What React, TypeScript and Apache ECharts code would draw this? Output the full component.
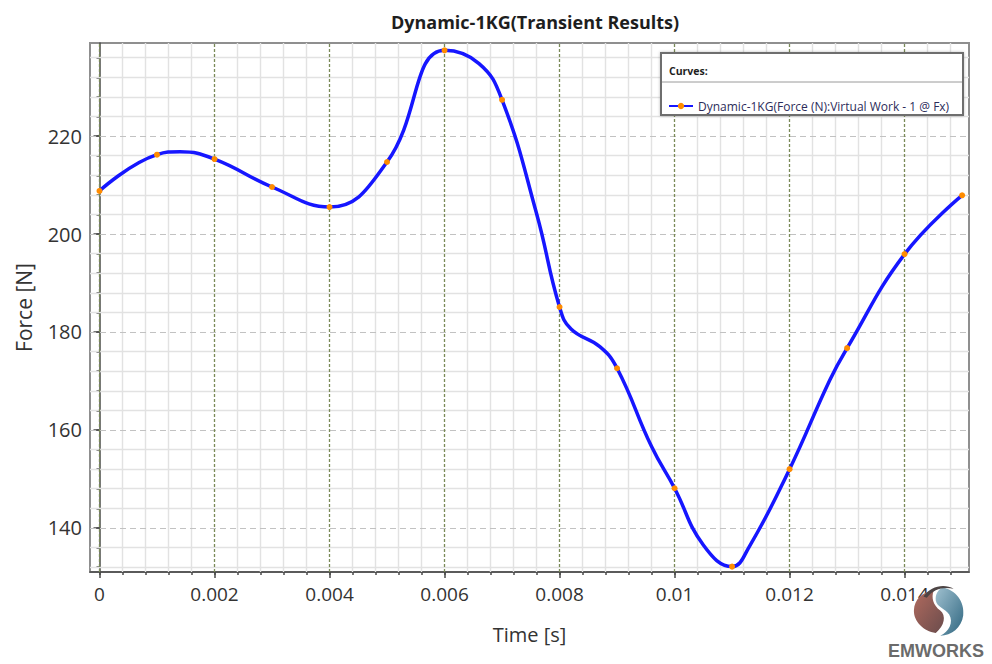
import { useEffect, useRef } from "react";
import * as echarts from "echarts";

// ---- data ----
const chartTitle = "Dynamic-1KG(Transient Results)";
const seriesName = "Dynamic-1KG(Force (N):Virtual Work - 1 @ Fx)";
const xAxisName = "Time [s]";
const yAxisName = "Force [N]";

// sampled points (orange markers)
const sampleTime = [0, 0.001, 0.002, 0.003, 0.004, 0.005, 0.006, 0.007, 0.008, 0.009, 0.01, 0.011, 0.012, 0.013, 0.014, 0.015];
const sampleForce = [208.8, 216.2, 215.3, 209.6, 205.5, 214.7, 237.5, 227.4, 185.1, 172.6, 148.1, 132.1, 152.0, 176.7, 195.9, 207.9];

// extra points (no marker)
const curveTime = [0.0014, 0.0066, 0.0076, 0.0082, 0.0087, 0.0096, 0.0105, 0.0113, 0.0127];
const curveForce = [216.8, 234.8, 204.2, 180.6, 177.0, 156.6, 136.5, 136.2, 170.2];

const xTickLabels = ["0", "0.002", "0.004", "0.006", "0.008", "0.01", "0.012", "0.014"];
const yTickLabels = ["140", "160", "180", "200", "220"];
const xMinorStep = 0.0004;
const yMinorStep = 4;
const xRange = [-0.000165, 0.01512];
const yRange = [131, 239];

const FONT = "'Open Sans', 'Noto Sans', sans-serif";

export default function App() {
  const ref = useRef<HTMLDivElement>(null);

  useEffect(() => {
    if (!ref.current) return;
    const chart = echarts.init(ref.current, null, { renderer: "svg" });

    echarts.graphic.registerShape(
      "emBlue",
      echarts.graphic.extendPath(
        "M58,10 C82,14 98,36 95,60 C92,82 74,96 54,96 C70,88 78,72 70,58 C63,47 48,45 46,33 C45,22 50,14 58,10 Z",
        {}
      )
    );
    echarts.graphic.registerShape(
      "emRed",
      echarts.graphic.extendPath(
        "M42,16 C38,28 41,41 54,51 C65,60 62,78 46,91 C24,88 6,70 7,50 C8,31 22,17 42,16 Z",
        {}
      )
    );
    echarts.graphic.registerShape(
      "emArc",
      echarts.graphic.extendPath("M24,26 C36,8 60,2 78,12 C60,8 42,12 30,28 Z", {})
    );

    const xTickValues = xTickLabels.map(Number);
    const yTickValues = yTickLabels.map(Number);
    const xMinor: number[] = [];
    for (let k = 0; k * xMinorStep <= xRange[1]; k++) xMinor.push(Number((k * xMinorStep).toFixed(5)));
    const yMinor: number[] = [];
    for (let v = 132; v <= yRange[1]; v += yMinorStep) yMinor.push(v);

    const isMajorX = (v: number) => xTickValues.some((t) => Math.abs(t - v) < 1e-9);
    const isMajorY = (v: number) => yTickValues.some((t) => Math.abs(t - v) < 1e-9);

    const gridLines: any[] = [];
    yMinor.filter((v) => !isMajorY(v)).forEach((v) =>
      gridLines.push({ yAxis: v, lineStyle: { color: "#e2e2e2", width: 1.4, type: "solid" } })
    );
    xMinor.filter((v) => !isMajorX(v)).forEach((v) =>
      gridLines.push({ xAxis: v, lineStyle: { color: "#e2e2e2", width: 1.4, type: "solid" } })
    );
    yTickValues.forEach((v) =>
      gridLines.push({ yAxis: v, lineStyle: { color: "#c2c2c2", width: 1.2, type: [6, 4] } })
    );
    xTickValues.forEach((v) =>
      gridLines.push({ xAxis: v, lineStyle: { color: "#7a8a58", width: 1.3, type: [3, 2] } })
    );

    const pts: { t: number; f: number; s: boolean }[] = [];
    sampleTime.forEach((t, i) => pts.push({ t, f: sampleForce[i], s: true }));
    curveTime.forEach((t, i) => pts.push({ t, f: curveForce[i], s: false }));
    pts.sort((a, b) => a.t - b.t);
    const lineData = pts.map((p) => ({ value: [p.t, p.f], symbol: p.s ? "circle" : "none" }));

    const xFmt = (v: number) => {
      const i = xTickValues.findIndex((t) => Math.abs(t - v) < 1e-9);
      return i >= 0 ? xTickLabels[i] : "";
    };
    const yFmt = (v: number) => {
      const i = yTickValues.findIndex((t) => Math.abs(t - v) < 1e-9);
      return i >= 0 ? yTickLabels[i] : "";
    };

    const axisLineStyle = { color: "#4a4a4a", width: 1.5 };

    chart.setOption({
      animation: false,
      backgroundColor: "#ffffff",
      title: {
        text: chartTitle,
        left: 530,
        textAlign: "center",
        top: 8,
        textStyle: { fontSize: 18, fontWeight: "bold", color: "#1e1e1e", fontFamily: FONT },
      },
      grid: {
        left: 90,
        top: 43,
        width: 879,
        height: 529,
        show: true,
        borderColor: "#8f8f8f",
        borderWidth: 2,
        backgroundColor: "#ffffff",
      },
      legend: {
        data: [seriesName],
        left: 663,
        top: 95,
        itemWidth: 24,
        itemHeight: 8,
        itemGap: 4,
        z: 10,
        selectedMode: false,
        textStyle: { fontSize: 12, color: "#2c2c5a", fontFamily: FONT },
      },
      xAxis: [
        {
          type: "value",
          min: xRange[0],
          max: xRange[1],
          position: "bottom",
          name: xAxisName,
          nameLocation: "middle",
          nameGap: 52,
          nameTextStyle: { fontSize: 20, color: "#333", fontFamily: FONT },
          axisLine: { show: true, lineStyle: axisLineStyle },
          axisTick: { show: true, customValues: xTickValues, length: 6, lineStyle: axisLineStyle },
          axisLabel: {
            show: true,
            customValues: xTickValues,
            formatter: xFmt,
            margin: 12,
            fontSize: 19,
            color: "#333",
            fontFamily: FONT,
          },
          splitLine: { show: false },
        },
        {
          type: "value",
          min: xRange[0],
          max: xRange[1],
          position: "bottom",
          axisLine: { show: false },
          axisTick: { show: true, customValues: xMinor, length: 3, lineStyle: axisLineStyle },
          axisLabel: { show: false },
          splitLine: { show: false },
        },
      ],
      yAxis: [
        {
          type: "value",
          min: yRange[0],
          max: yRange[1],
          position: "left",
          name: yAxisName,
          nameLocation: "middle",
          nameGap: 56,
          nameRotate: 90,
          nameTextStyle: { fontSize: 21, color: "#333", fontFamily: FONT },
          axisLine: { show: true, lineStyle: axisLineStyle },
          axisTick: { show: true, customValues: yTickValues, length: 6, lineStyle: axisLineStyle },
          axisLabel: {
            show: true,
            customValues: yTickValues,
            formatter: yFmt,
            margin: 8,
            fontSize: 20,
            color: "#333",
            fontFamily: FONT,
          },
          splitLine: { show: false },
        },
        {
          type: "value",
          min: yRange[0],
          max: yRange[1],
          position: "left",
          axisLine: { show: false },
          axisTick: { show: true, customValues: yMinor, length: 3, lineStyle: axisLineStyle },
          axisLabel: { show: false },
          splitLine: { show: false },
        },
      ],
      series: [
        {
          name: "grid",
          type: "line",
          data: [],
          z: 1,
          silent: true,
          markLine: {
            silent: true,
            z: 1,
            precision: 8,
            symbol: ["none", "none"],
            label: { show: false },
            emphasis: { disabled: true },
            data: gridLines,
          },
        },
        {
          name: seriesName,
          type: "line",
          xAxisIndex: 0,
          yAxisIndex: 0,
          data: lineData,
          smooth: 0.45,
          symbol: "circle",
          symbolSize: 6,
          z: 3,
          lineStyle: { color: "#1616ff", width: 3.5 },
          itemStyle: { color: "#ff8c00" },
          emphasis: { disabled: true },
        },
      ],
      graphic: [
        {
          type: "rect",
          z: 5,
          shape: { x: 661, y: 53, width: 302, height: 62 },
          style: { fill: "#ffffff", stroke: "#6e6e6e", lineWidth: 2, shadowBlur: 3, shadowColor: "rgba(0,0,0,0.25)" },
        },
        {
          type: "line",
          z: 6,
          shape: { x1: 662, y1: 82, x2: 962, y2: 82 },
          style: { stroke: "#9a9a9a", lineWidth: 1 },
        },
        {
          type: "text",
          z: 6,
          x: 669,
          y: 71,
          style: {
            text: "Curves:",
            font: `bold 10.5px ${FONT}`,
            fill: "#1e1e1e",
            textAlign: "left",
            textVerticalAlign: "middle",
          },
        },
        {
          type: "emRed",
          z: 20,
          x: 910,
          y: 582,
          scaleX: 0.56,
          scaleY: 0.56,
          style: {
            fill: new echarts.graphic.LinearGradient(0, 0, 1, 1, [
              { offset: 0, color: "#b06a5e" },
              { offset: 1, color: "#6b4c4c" },
            ]),
          },
        },
        {
          type: "emBlue",
          z: 20,
          x: 910,
          y: 582,
          scaleX: 0.56,
          scaleY: 0.56,
          style: {
            fill: new echarts.graphic.LinearGradient(0, 0, 1, 1, [
              { offset: 0, color: "#9fc0cf" },
              { offset: 1, color: "#2f6680" },
            ]),
          },
        },
        {
          type: "emArc",
          z: 20,
          x: 910,
          y: 582,
          scaleX: 0.56,
          scaleY: 0.56,
          style: { fill: "#4d4444" },
        },
        {
          type: "text",
          z: 20,
          x: 936,
          y: 651,
          style: {
            text: "EMWORKS",
            font: "bold 18px 'Liberation Sans', Arial, sans-serif",
            fill: "#6b6b6b",
            textAlign: "center",
            textVerticalAlign: "middle",
          },
        },
      ],
    });

    return () => chart.dispose();
  }, []);

  return (
    <div
      ref={ref}
      style={{ position: "fixed", left: 0, top: 0, width: 992, height: 664, background: "#fff" }}
    />
  );
}
